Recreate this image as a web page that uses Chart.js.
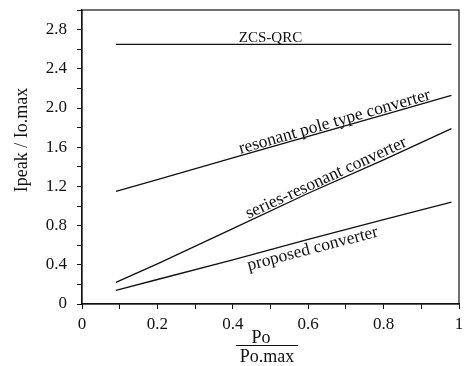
<!DOCTYPE html>
<html>
<head>
<meta charset="utf-8">
<script src="https://cdn.jsdelivr.net/npm/chart.js@4.4.1/dist/chart.umd.min.js"></script>
<style>
  html, body { margin: 0; padding: 0; background: #fff; }
  #myChart0 { display: block; }
</style>
</head>
<body>
<canvas id="myChart0" width="465" height="366"></canvas>
<script>
// Po / Po.max
var poRatio = [0.09, 0.2, 0.4, 0.6, 0.8, 0.98];

// Ipeak / Io.max for each converter
var zcsQrc = [2.65, 2.65, 2.65, 2.65, 2.65, 2.65];
var resonantPole = [1.15, 1.27, 1.49, 1.71, 1.93, 2.13];
var seriesResonant = [0.22, 0.41, 0.77, 1.13, 1.47, 1.79];
var proposed = [0.14, 0.25, 0.45, 0.66, 0.86, 1.04];

var yTickLabels = ["0", "0.4", "0.8", "1.2", "1.6", "2.0", "2.4", "2.8"];
var xTickLabels = ["0", "0.2", "0.4", "0.6", "0.8", "1"];

var serif = "'Liberation Serif', 'Times New Roman', serif";
var ink = "#111";

function points(ys) {
    var out = [];
    for (var i in poRatio) {
        out.push({ x: poRatio[i], y: ys[i] });
    }
    return out;
}

function makeSet(label, ys) {
    return {
        label: label,
        data: points(ys),
        borderColor: ink,
        borderWidth: 1.3,
        pointRadius: 0,
        fill: false,
        tension: 0
    };
}

// curve labels written along (or above/below) their lines
var curveLabels = [
    { text: "resonant pole type converter", set: 1, x: 0.675, offset: 2 },
    { text: "series-resonant converter", set: 2, x: 0.655, offset: 2 },
    { text: "proposed converter", set: 3, x: 0.605, offset: -15 }
];

function interp(ys, x) {
    for (var i = 0; i < poRatio.length - 1; i++) {
        if (x <= poRatio[i + 1]) {
            var t = (x - poRatio[i]) / (poRatio[i + 1] - poRatio[i]);
            return ys[i] + t * (ys[i + 1] - ys[i]);
        }
    }
    return ys[ys.length - 1];
}

// keep the plot box where the layout padding puts it
function noOverhang(scale) {
    scale.paddingTop = 0;
    scale.paddingBottom = 0;
    scale.paddingLeft = 0;
    scale.paddingRight = 0;
}

var frameAndText = {
    id: "frameAndText",
    afterDraw: function(chart) {
        var ctx = chart.ctx;
        var a = chart.chartArea;
        var xs = chart.scales.x;
        var ys = chart.scales.y;
        ctx.save();

        // box round the plot
        ctx.strokeStyle = ink;
        ctx.lineWidth = 1.2;
        ctx.strokeRect(a.left, a.top, a.right - a.left, a.bottom - a.top);

        ctx.fillStyle = ink;

        // ZCS-QRC sits on its flat line
        ctx.font = "15px " + serif;
        ctx.textAlign = "center";
        ctx.textBaseline = "alphabetic";
        ctx.fillText("ZCS-QRC", xs.getPixelForValue(0.5), ys.getPixelForValue(zcsQrc[0]) - 2);

        // sloped labels
        ctx.font = "17.5px " + serif;
        var sets = [zcsQrc, resonantPole, seriesResonant, proposed];
        for (var k in curveLabels) {
            var c = curveLabels[k];
            var s = sets[c.set];
            var px = xs.getPixelForValue(c.x);
            var py = ys.getPixelForValue(interp(s, c.x));
            var x0 = xs.getPixelForValue(poRatio[0]);
            var y0 = ys.getPixelForValue(s[0]);
            var x1 = xs.getPixelForValue(poRatio[poRatio.length - 1]);
            var y1 = ys.getPixelForValue(s[s.length - 1]);
            var ang = Math.atan2(y1 - y0, x1 - x0);
            ctx.save();
            ctx.translate(px, py);
            ctx.rotate(ang);
            ctx.fillText(c.text, 0, -c.offset);
            ctx.restore();
        }

        // y axis title
        ctx.font = "18px " + serif;
        ctx.save();
        ctx.translate(22, 140);
        ctx.rotate(-Math.PI / 2);
        ctx.textBaseline = "middle";
        ctx.fillText("Ipeak / Io.max", 0, 0);
        ctx.restore();

        // x axis title as a fraction
        ctx.fillText("Po", 261, 343);
        ctx.beginPath();
        ctx.lineWidth = 1;
        ctx.moveTo(236, 345.5);
        ctx.lineTo(298, 345.5);
        ctx.stroke();
        ctx.fillText("Po.max", 267, 362);

        ctx.restore();
    }
};

var chartdata = {
    datasets: [
        makeSet("ZCS-QRC", zcsQrc),
        makeSet("resonant pole type converter", resonantPole),
        makeSet("series-resonant converter", seriesResonant),
        makeSet("proposed converter", proposed)
    ]
};

var ctx = document.getElementById("myChart0");

var LineGraph = new Chart(ctx, {
    type: "line",
    data: chartdata,
    plugins: [frameAndText],
    options: {
        responsive: false,
        animation: false,
        layout: { padding: { top: 10, right: 6, left: 0, bottom: 0 } },
        plugins: {
            legend: { display: false },
            tooltip: { enabled: false }
        },
        scales: {
            x: {
                type: "linear",
                min: 0,
                max: 1,
                afterFit: function(scale) { scale.height = 62; noOverhang(scale); },
                border: { display: true, color: ink, width: 1.2 },
                grid: { drawOnChartArea: false, drawTicks: true, tickLength: 5, color: ink, lineWidth: 1 },
                ticks: {
                    stepSize: 0.1,
                    autoSkip: false,
                    maxRotation: 0,
                    padding: 5,
                    color: ink,
                    font: { family: serif, size: 17 },
                    callback: function(v) {
                        var n = Math.round(v * 10);
                        return n % 2 === 0 ? xTickLabels[n / 2] : "";
                    }
                }
            },
            y: {
                min: 0,
                max: 3,
                afterFit: function(scale) { scale.width = 82; noOverhang(scale); },
                border: { display: true, color: ink, width: 1.2 },
                grid: { drawOnChartArea: false, drawTicks: true, tickLength: 5, color: ink, lineWidth: 1 },
                ticks: {
                    stepSize: 0.2,
                    autoSkip: false,
                    padding: 10,
                    color: ink,
                    font: { family: serif, size: 17 },
                    callback: function(v) {
                        var n = Math.round(v * 10);
                        return (n % 4 === 0 && n / 4 < yTickLabels.length) ? yTickLabels[n / 4] : "";
                    }
                }
            }
        }
    }
});
</script>
</body>
</html>
